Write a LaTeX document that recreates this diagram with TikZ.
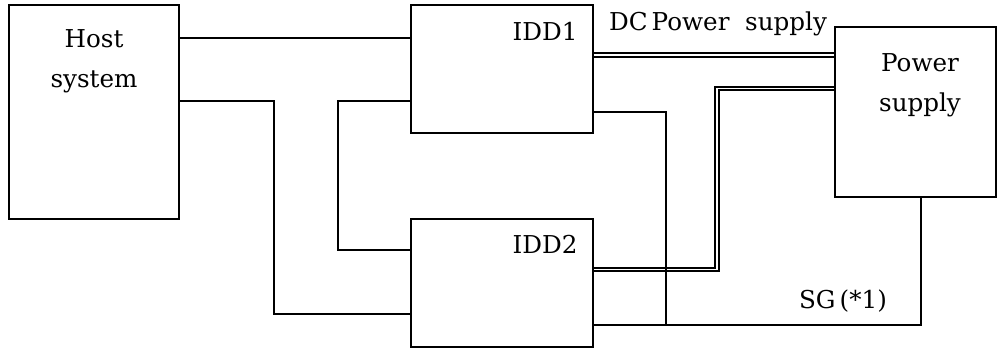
\documentclass[tikz,border=0pt]{standalone}
\usepackage{fontspec}
\setmainfont{DejaVu Serif}
\usepackage{tikz}
\usetikzlibrary{calc}

\begin{document}
\begin{tikzpicture}[
    x=0.025cm, y=-0.025cm,
    box/.style={rectangle, draw, line width=1.3pt, inner sep=0pt},
    wire/.style={line width=1.2pt},
    power/.style={line width=1.3pt, double, double distance=1.4pt},
    lbl/.style={font=\fontsize{17.5}{28.45}\selectfont, inner sep=0pt, align=center}
]
\useasboundingbox (0,0) rectangle (997,349);

% Units
\node[box, minimum width=4.25cm, minimum height=5.35cm] at (94,112) (host) {};
\node[box, minimum width=4.55cm, minimum height=3.2cm] at (502,69) (idd1) {};
\node[box, minimum width=4.55cm, minimum height=3.2cm] at (502,283) (idd2) {};
\node[box, minimum width=4.025cm, minimum height=4.25cm] at (915.5,112) (psu) {};

% Texts
\node[lbl, anchor=north] at (94,29) (host-txt) {Host\\system};
\node[lbl, anchor=base] at (545,40) (idd1-txt) {IDD1};
\node[lbl, anchor=base] at (545,253) (idd2-txt) {IDD2};
\node[lbl, anchor=north] at (920,53) (psu-txt) {Power\\supply};
\node[lbl, anchor=base] at (718,30) (dc-txt) {DC\,Power\ \ supply};
\node[lbl, anchor=base] at (843,308) (sg-txt) {SG\,(*1)};

% Interface cables
\draw[wire] (host.east |- 0,38) -- (idd1.west |- 0,38);
\draw[wire] (host.east |- 0,101) -| (274,314) -- (idd2.west |- 0,314);
\draw[wire] (idd1.west |- 0,101) -| (338,250) -- (idd2.west |- 0,250);

% DC power
\draw[power] (idd1.east |- 0,55) -- (psu.west |- 0,55);
\draw[power] (idd2.east |- 0,269.5) -| (717,88.5) -- (psu.west |- 0,88.5);

% Signal ground
\draw[wire] (idd1.east |- 0,112) -| (666,325);
\draw[wire] (idd2.east |- 0,325) -| (psu.south -| 921,0);

\end{tikzpicture}
\end{document}
